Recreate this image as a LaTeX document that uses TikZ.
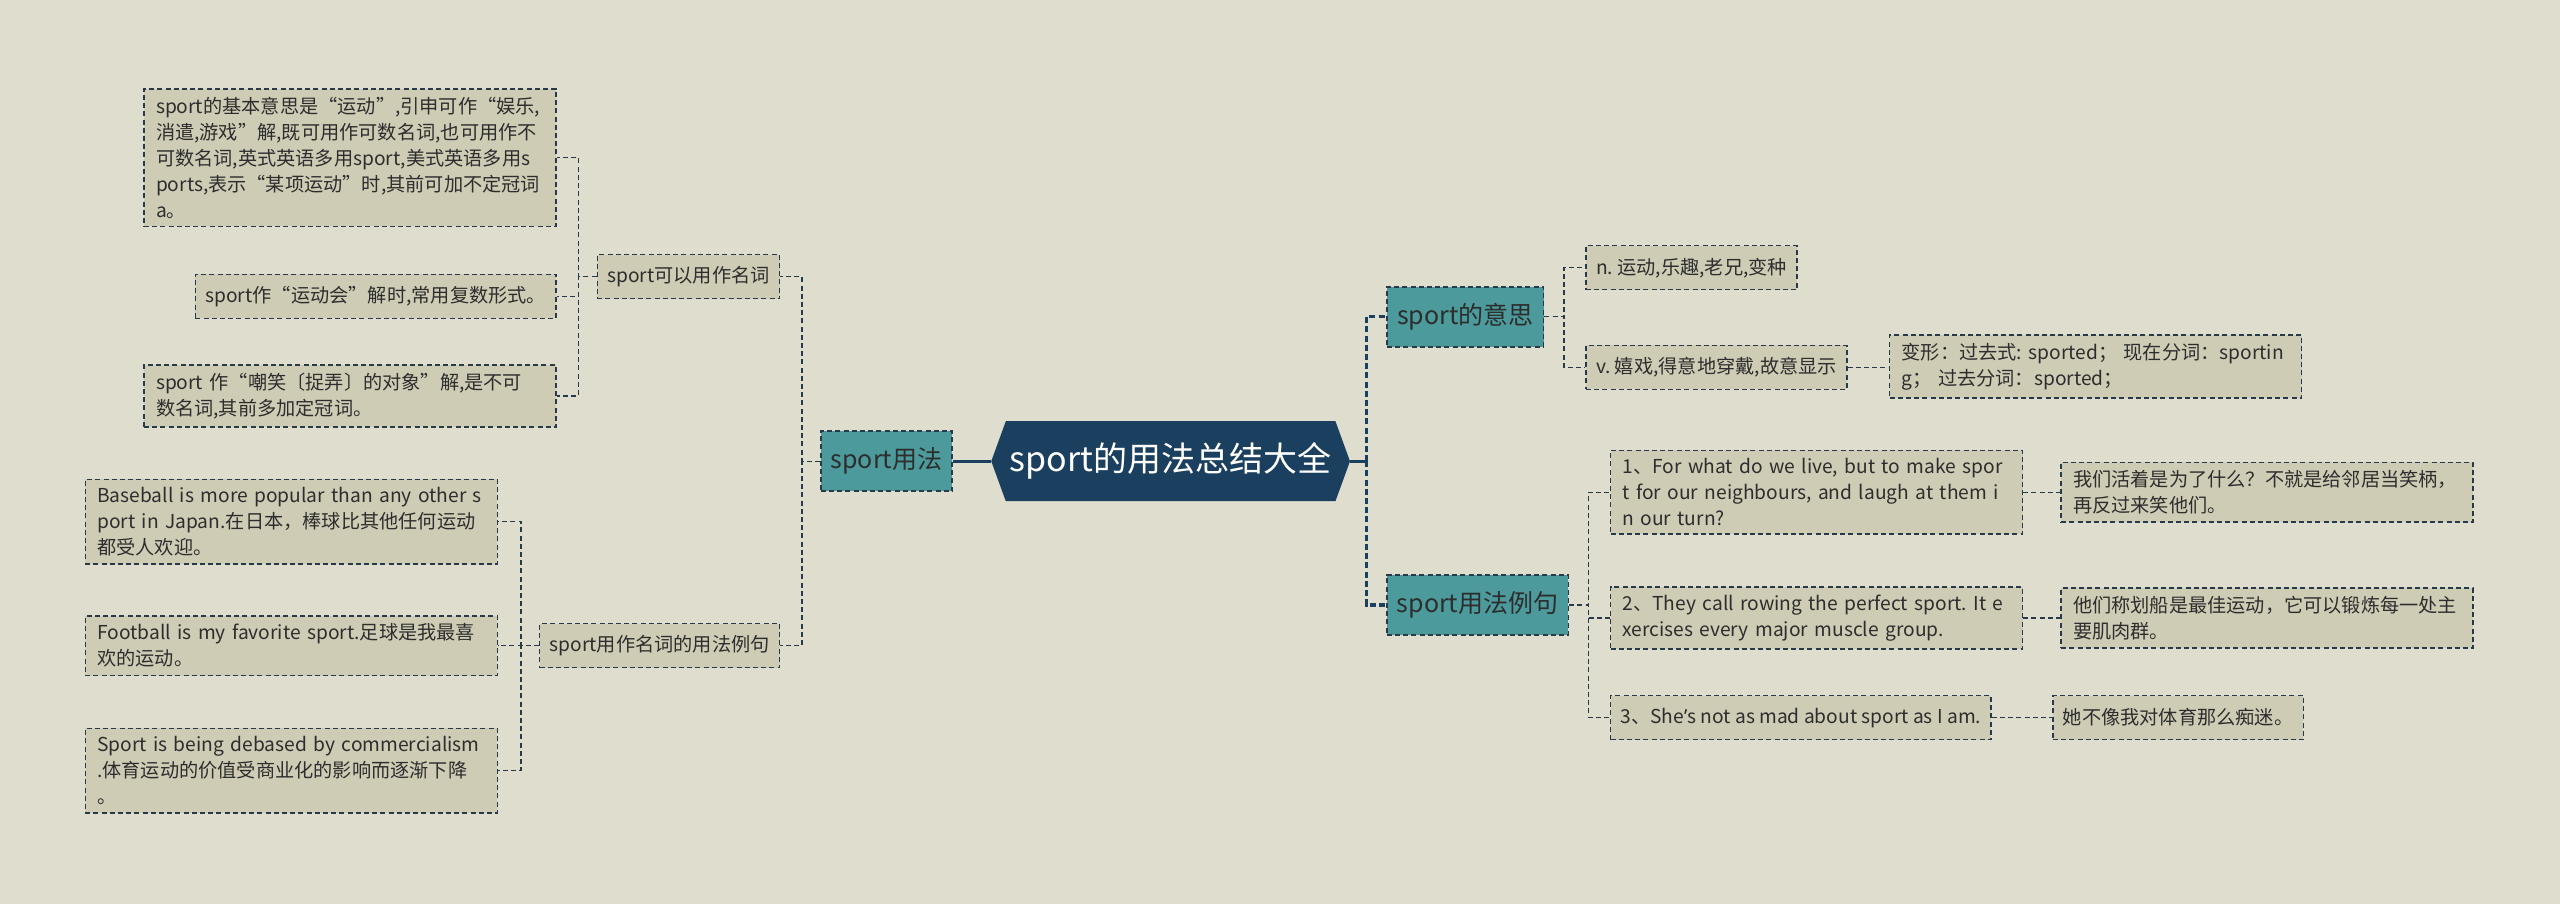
\documentclass[tikz,border=0pt]{standalone}
\usepackage{fontspec}
\setmainfont{Noto Sans CJK SC}
\newfontfamily\latinf{Noto Sans}
\usetikzlibrary{positioning,shapes.symbols}
\definecolor{bgc}{RGB}{223,221,206}
\definecolor{navy}{RGB}{26,63,95}
\definecolor{tealc}{RGB}{76,154,155}
\definecolor{leafc}{RGB}{207,204,181}
\definecolor{linec}{RGB}{40,58,74}
\definecolor{txt}{RGB}{45,45,45}
\frenchspacing
\tikzset{rootn/.style={signal,signal to=west and east,signal pointer angle=140,
fill=navy,text=white,font=\fontsize{17}{20}\selectfont,minimum width=170pt,
minimum height=40pt,inner xsep=2pt},
topic/.style={draw=linec,line width=0.8pt,dash pattern=on 2.5pt off 1.6pt,
fill=tealc,text=txt,font=\fontsize{12.5}{15}\selectfont,minimum height=30pt,
inner xsep=5pt},
sub/.style={draw=linec,line width=0.7pt,dash pattern=on 2.5pt off 1.6pt,
fill=leafc,text=txt,font=\fontsize{9.6}{13}\selectfont,minimum height=22pt,
inner xsep=5pt},
leaf/.style={sub,text width=194pt,align=left,inner xsep=6pt,inner ysep=4pt},
link/.style={draw=linec,line width=0.6pt,dash pattern=on 2.5pt off 1.6pt},
trunk/.style={draw=navy,line width=1.6pt}}
\begin{document}
\begin{tikzpicture}[x=0.8163pt,y=-0.8163pt]
\fill[bgc] (0,0) rectangle (1568,553.7);
% centre
\node[rootn] (root) at (717,282.5) {sport的用法总结大全};
% left side
\node[topic] (use) at (543,282.5) {sport用法};
\node[sub,anchor=east] (noun) at (478,169.5) {sport可以用作名词};
\node[sub,anchor=east] (nounex) at (478,395.5) {sport用作名词的用法例句};
\node[leaf,anchor=east] (basic) at (341,96.5) {sport的基本意思是“运动”,引申可作“娱乐,\\
消遣,游戏”解,既可用作可数名词,也可用作不\\
可数名词,英式英语多用sport,美式英语多用s\\
ports,表示“某项运动”时,其前可加不定冠词\\
a。};
\node[sub,anchor=east] (meet) at (341,181.5) {sport作“运动会”解时,常用复数形式。};
\node[leaf,anchor=east] (joke) at (341,242.5) {sport 作“嘲笑〔捉弄〕的对象”解,是不可\\
数名词,其前多加定冠词。};
\node[leaf,anchor=east] (base) at (305,319.5) {Baseball is more popular than any other s\\
port in Japan.在日本，棒球比其他任何运动\\
都受人欢迎。};
\node[leaf,anchor=east] (foot) at (305,395.5) {Football is my favorite sport.足球是我最喜\\
欢的运动。};
\node[leaf,anchor=east] (comm) at (305,472) {Sport is being debased by commercialism\\
.体育运动的价值受商业化的影响而逐渐下降\\
。};
% right side
\node[topic] (mean) at (897.5,194) {sport的意思};
\node[topic] (ex) at (905,370.5) {sport用法例句};
\node[sub,anchor=west] (noun2) at (971,164) {n. 运动,乐趣,老兄,变种};
\node[sub,anchor=west] (verb) at (971,225) {v. 嬉戏,得意地穿戴,故意显示};
\node[leaf,anchor=west] (form) at (1157,224.5) {变形：过去式: sported； 现在分词：sportin\\
g； 过去分词：sported；};
\node[leaf,anchor=west] (ex1) at (986,301.5) {1、For what do we live, but to make spor\\
t for our neighbours, and laugh at them i\\
n our turn?};
\node[leaf,anchor=west] (ex2) at (986,378.5) {2、They call rowing the perfect sport. It e\\
xercises every major muscle group.};
\node[sub,anchor=west] (ex3) at (986,439.5) {3、She{\latinf ’}s not as mad about sport as I am.};
\node[leaf,anchor=west] (tr1) at (1262,301.5) {我们活着是为了什么？不就是给邻居当笑柄，\\
再反过来笑他们。};
\node[leaf,anchor=west] (tr2) at (1262,378.5) {他们称划船是最佳运动，它可以锻炼每一处主\\
要肌肉群。};
\node[sub,anchor=west] (tr3) at (1257,439.5) {她不像我对体育那么痴迷。};
% connectors
\draw[trunk] (root.west) -- (use.east);
\draw[trunk] (root.east) -- ++(10,0) coordinate (rj);
\draw[trunk,dash pattern=on 3pt off 1.6pt] (rj) |- (mean.west);
\draw[trunk,dash pattern=on 3pt off 1.6pt] (rj) |- (ex.west);
\draw[link] (use.west) -- ++(-11,0) |- (noun.east);
\draw[link] (use.west) -- ++(-11,0) |- (nounex.east);
\foreach \n in {basic,meet,joke}
  \draw[link] (noun.west) -- ++(-11,0) |- (\n.east);
\foreach \n in {base,foot,comm}
  \draw[link] (nounex.west) -- ++(-11,0) |- (\n.east);
\foreach \n in {noun2,verb}
  \draw[link] (mean.east) -- ++(12,0) |- (\n.west);
\draw[link] (verb.east) -- (verb.east -| form.west);
\foreach \n in {ex1,ex2,ex3}
  \draw[link] (ex.east) -- ++(12,0) |- (\n.west);
\draw[link] (ex1.east) -- (ex1.east -| tr1.west);
\draw[link] (ex2.east) -- (ex2.east -| tr2.west);
\draw[link] (ex3.east) -- (tr3.west);
\end{tikzpicture}
\end{document}
